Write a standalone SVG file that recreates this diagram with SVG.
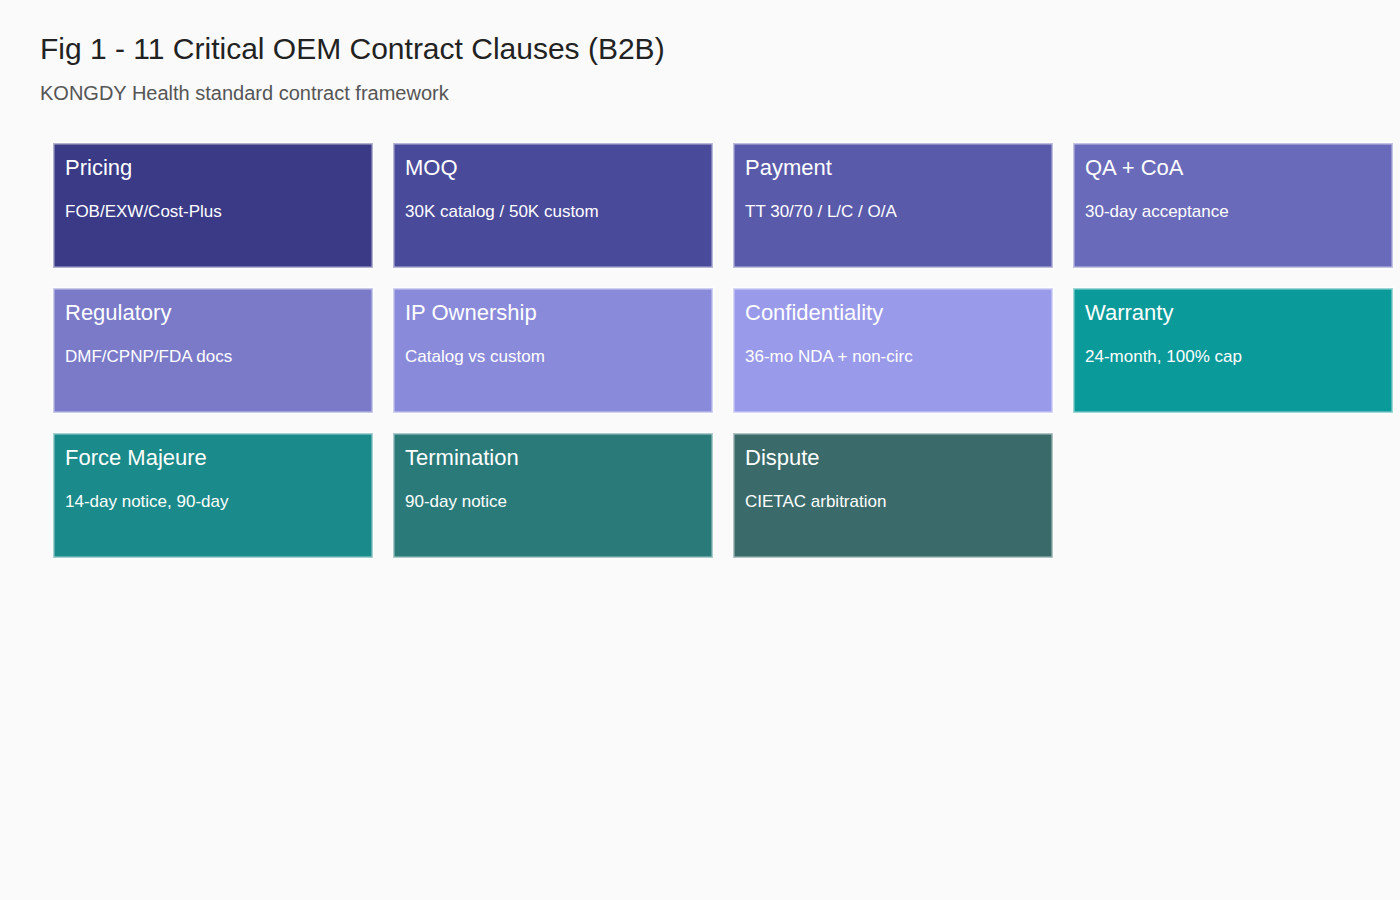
<svg xmlns="http://www.w3.org/2000/svg" width="1400" height="900" viewBox="0 0 1400 900">
<style>
text{font-family:"Liberation Sans",Arial,sans-serif}
.t{font-size:30px;fill:#222}
.s{font-size:20px;fill:#555}
.b{stroke:#ffffff;stroke-width:3;stroke-opacity:0.6}
.h{font-size:22px;fill:#fff}
.d{font-size:17px;fill:#fff}
</style>
<rect width="1400" height="900" fill="#fafafa"/>
<text class="t" x="40" y="59">Fig 1 - 11 Critical OEM Contract Clauses (B2B)</text>
<text class="s" x="40" y="100">KONGDY Health standard contract framework</text>
<g id="n1"><rect class="b" x="53" y="143" width="320" height="125" fill="#3a3a87"/><text class="h" x="65" y="175">Pricing</text><text class="d" x="65" y="217">FOB/EXW/Cost-Plus</text></g>
<g id="n2"><rect class="b" x="393" y="143" width="320" height="125" fill="#4a4a9b"/><text class="h" x="405" y="175">MOQ</text><text class="d" x="405" y="217">30K catalog / 50K custom</text></g>
<g id="n3"><rect class="b" x="733" y="143" width="320" height="125" fill="#5a5aab"/><text class="h" x="745" y="175">Payment</text><text class="d" x="745" y="217">TT 30/70 / L/C / O/A</text></g>
<g id="n4"><rect class="b" x="1073" y="143" width="320" height="125" fill="#6a6abb"/><text class="h" x="1085" y="175">QA + CoA</text><text class="d" x="1085" y="217">30-day acceptance</text></g>
<g id="n5"><rect class="b" x="53" y="288" width="320" height="125" fill="#7a7ac9"/><text class="h" x="65" y="320">Regulatory</text><text class="d" x="65" y="362">DMF/CPNP/FDA docs</text></g>
<g id="n6"><rect class="b" x="393" y="288" width="320" height="125" fill="#8a8adb"/><text class="h" x="405" y="320">IP Ownership</text><text class="d" x="405" y="362">Catalog vs custom</text></g>
<g id="n7"><rect class="b" x="733" y="288" width="320" height="125" fill="#9a9aea"/><text class="h" x="745" y="320">Confidentiality</text><text class="d" x="745" y="362">36-mo NDA + non-circ</text></g>
<g id="n8"><rect class="b" x="1073" y="288" width="320" height="125" fill="#0a9a9a"/><text class="h" x="1085" y="320">Warranty</text><text class="d" x="1085" y="362">24-month, 100% cap</text></g>
<g id="n9"><rect class="b" x="53" y="433" width="320" height="125" fill="#1a8a8a"/><text class="h" x="65" y="465">Force Majeure</text><text class="d" x="65" y="507">14-day notice, 90-day</text></g>
<g id="n10"><rect class="b" x="393" y="433" width="320" height="125" fill="#2a7a7a"/><text class="h" x="405" y="465">Termination</text><text class="d" x="405" y="507">90-day notice</text></g>
<g id="n11"><rect class="b" x="733" y="433" width="320" height="125" fill="#3a6a6a"/><text class="h" x="745" y="465">Dispute</text><text class="d" x="745" y="507">CIETAC arbitration</text></g>
<g id="connectors"/>
</svg>
